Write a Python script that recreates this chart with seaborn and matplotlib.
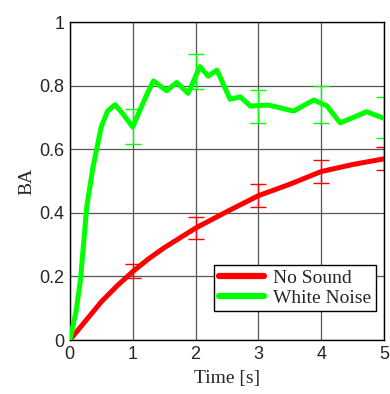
import matplotlib
matplotlib.use("Agg")
import matplotlib.pyplot as plt
import seaborn as sns
import pandas as pd

# curves
red_t = [0, 0.25, 0.5, 0.75, 1.0, 1.25, 1.5, 2.0, 2.5, 3.0, 3.5, 4.0, 4.5, 5.0]
red_ba = [0, 0.06, 0.12, 0.17, 0.215, 0.255, 0.29, 0.352, 0.404, 0.454, 0.49, 0.53, 0.552, 0.57]

green_t = [0, 0.1, 0.17, 0.27, 0.37, 0.5, 0.6, 0.72, 0.85, 1.0, 1.11, 1.22, 1.33, 1.54,
           1.70, 1.88, 2.07, 2.20, 2.34, 2.55, 2.71, 2.87, 3.16, 3.56, 3.88, 4.09,
           4.30, 4.51, 4.72, 5.0]
green_ba = [0, 0.09, 0.19, 0.42, 0.545, 0.67, 0.72, 0.74, 0.71, 0.67, 0.72, 0.77, 0.815, 0.784,
            0.81, 0.776, 0.86, 0.83, 0.849, 0.757, 0.765, 0.736, 0.739, 0.72, 0.755, 0.736,
            0.683, 0.70, 0.718, 0.697]

# error bars at whole seconds
err_t = [1, 2, 3, 4, 5]
red_mid = [0.217, 0.352, 0.454, 0.53, 0.57]
red_err = [0.021, 0.035, 0.037, 0.037, 0.036]
green_mid = [0.672, 0.845, 0.734, 0.741, 0.699]
green_err = [0.054, 0.055, 0.052, 0.058, 0.065]

labels = ["No Sound", "White Noise"]
colors = ["#ff0000", "#00ff00"]

df = pd.concat([
    pd.DataFrame({"t": red_t, "ba": red_ba, "cond": labels[0]}),
    pd.DataFrame({"t": green_t, "ba": green_ba, "cond": labels[1]}),
])

sns.set_style("white")
plt.rcParams["font.family"] = ["Liberation Sans", "DejaVu Sans"]

fig = plt.figure(figsize=(3.9, 3.94), dpi=100)
ax = fig.add_axes([0.179, 0.137, 0.806, 0.807])

sns.lineplot(data=df, x="t", y="ba", hue="cond", palette=dict(zip(labels, colors)),
             linewidth=3.6, ax=ax, sort=False, estimator=None,
             solid_capstyle="round", solid_joinstyle="round", zorder=3)

ax.errorbar(err_t, red_mid, yerr=red_err, fmt="none", ecolor=colors[0],
            elinewidth=1, capsize=6, capthick=1, zorder=2)
ax.errorbar(err_t, green_mid, yerr=green_err, fmt="none", ecolor=colors[1],
            elinewidth=1, capsize=6, capthick=1, zorder=2)

ax.set_xlim(0, 5)
ax.set_ylim(0, 1)
ax.set_xticks([0, 1, 2, 3, 4, 5])
ax.set_yticks([0, 0.2, 0.4, 0.6, 0.8, 1])
ax.set_xticklabels(["0", "1", "2", "3", "4", "5"])
ax.set_yticklabels(["0", "0.2", "0.4", "0.6", "0.8", "1"])
ax.tick_params(length=0, labelsize=13, pad=4)
ax.grid(True, color="#555555", linewidth=0.9)
ax.set_axisbelow(True)
for s in ax.spines.values():
    s.set_color("black")
    s.set_linewidth(1)

ax.set_xlabel("Time [s]", family="Liberation Serif", fontsize=14, labelpad=5)
ax.set_ylabel("BA", family="Liberation Serif", fontsize=14, labelpad=3)

leg = ax.legend(loc="lower right", bbox_to_anchor=(0.975, 0.09), fancybox=False,
                framealpha=1, edgecolor="black", handlelength=2.3,
                borderpad=0.25, labelspacing=0.1, handletextpad=0.5, borderaxespad=0,
                prop={"family": "Liberation Serif", "size": 14})
leg.get_frame().set_linewidth(1)
for line in leg.get_lines():
    line.set_linewidth(4.5)

fig.savefig("out.png", dpi=100)
plt.close(fig)
